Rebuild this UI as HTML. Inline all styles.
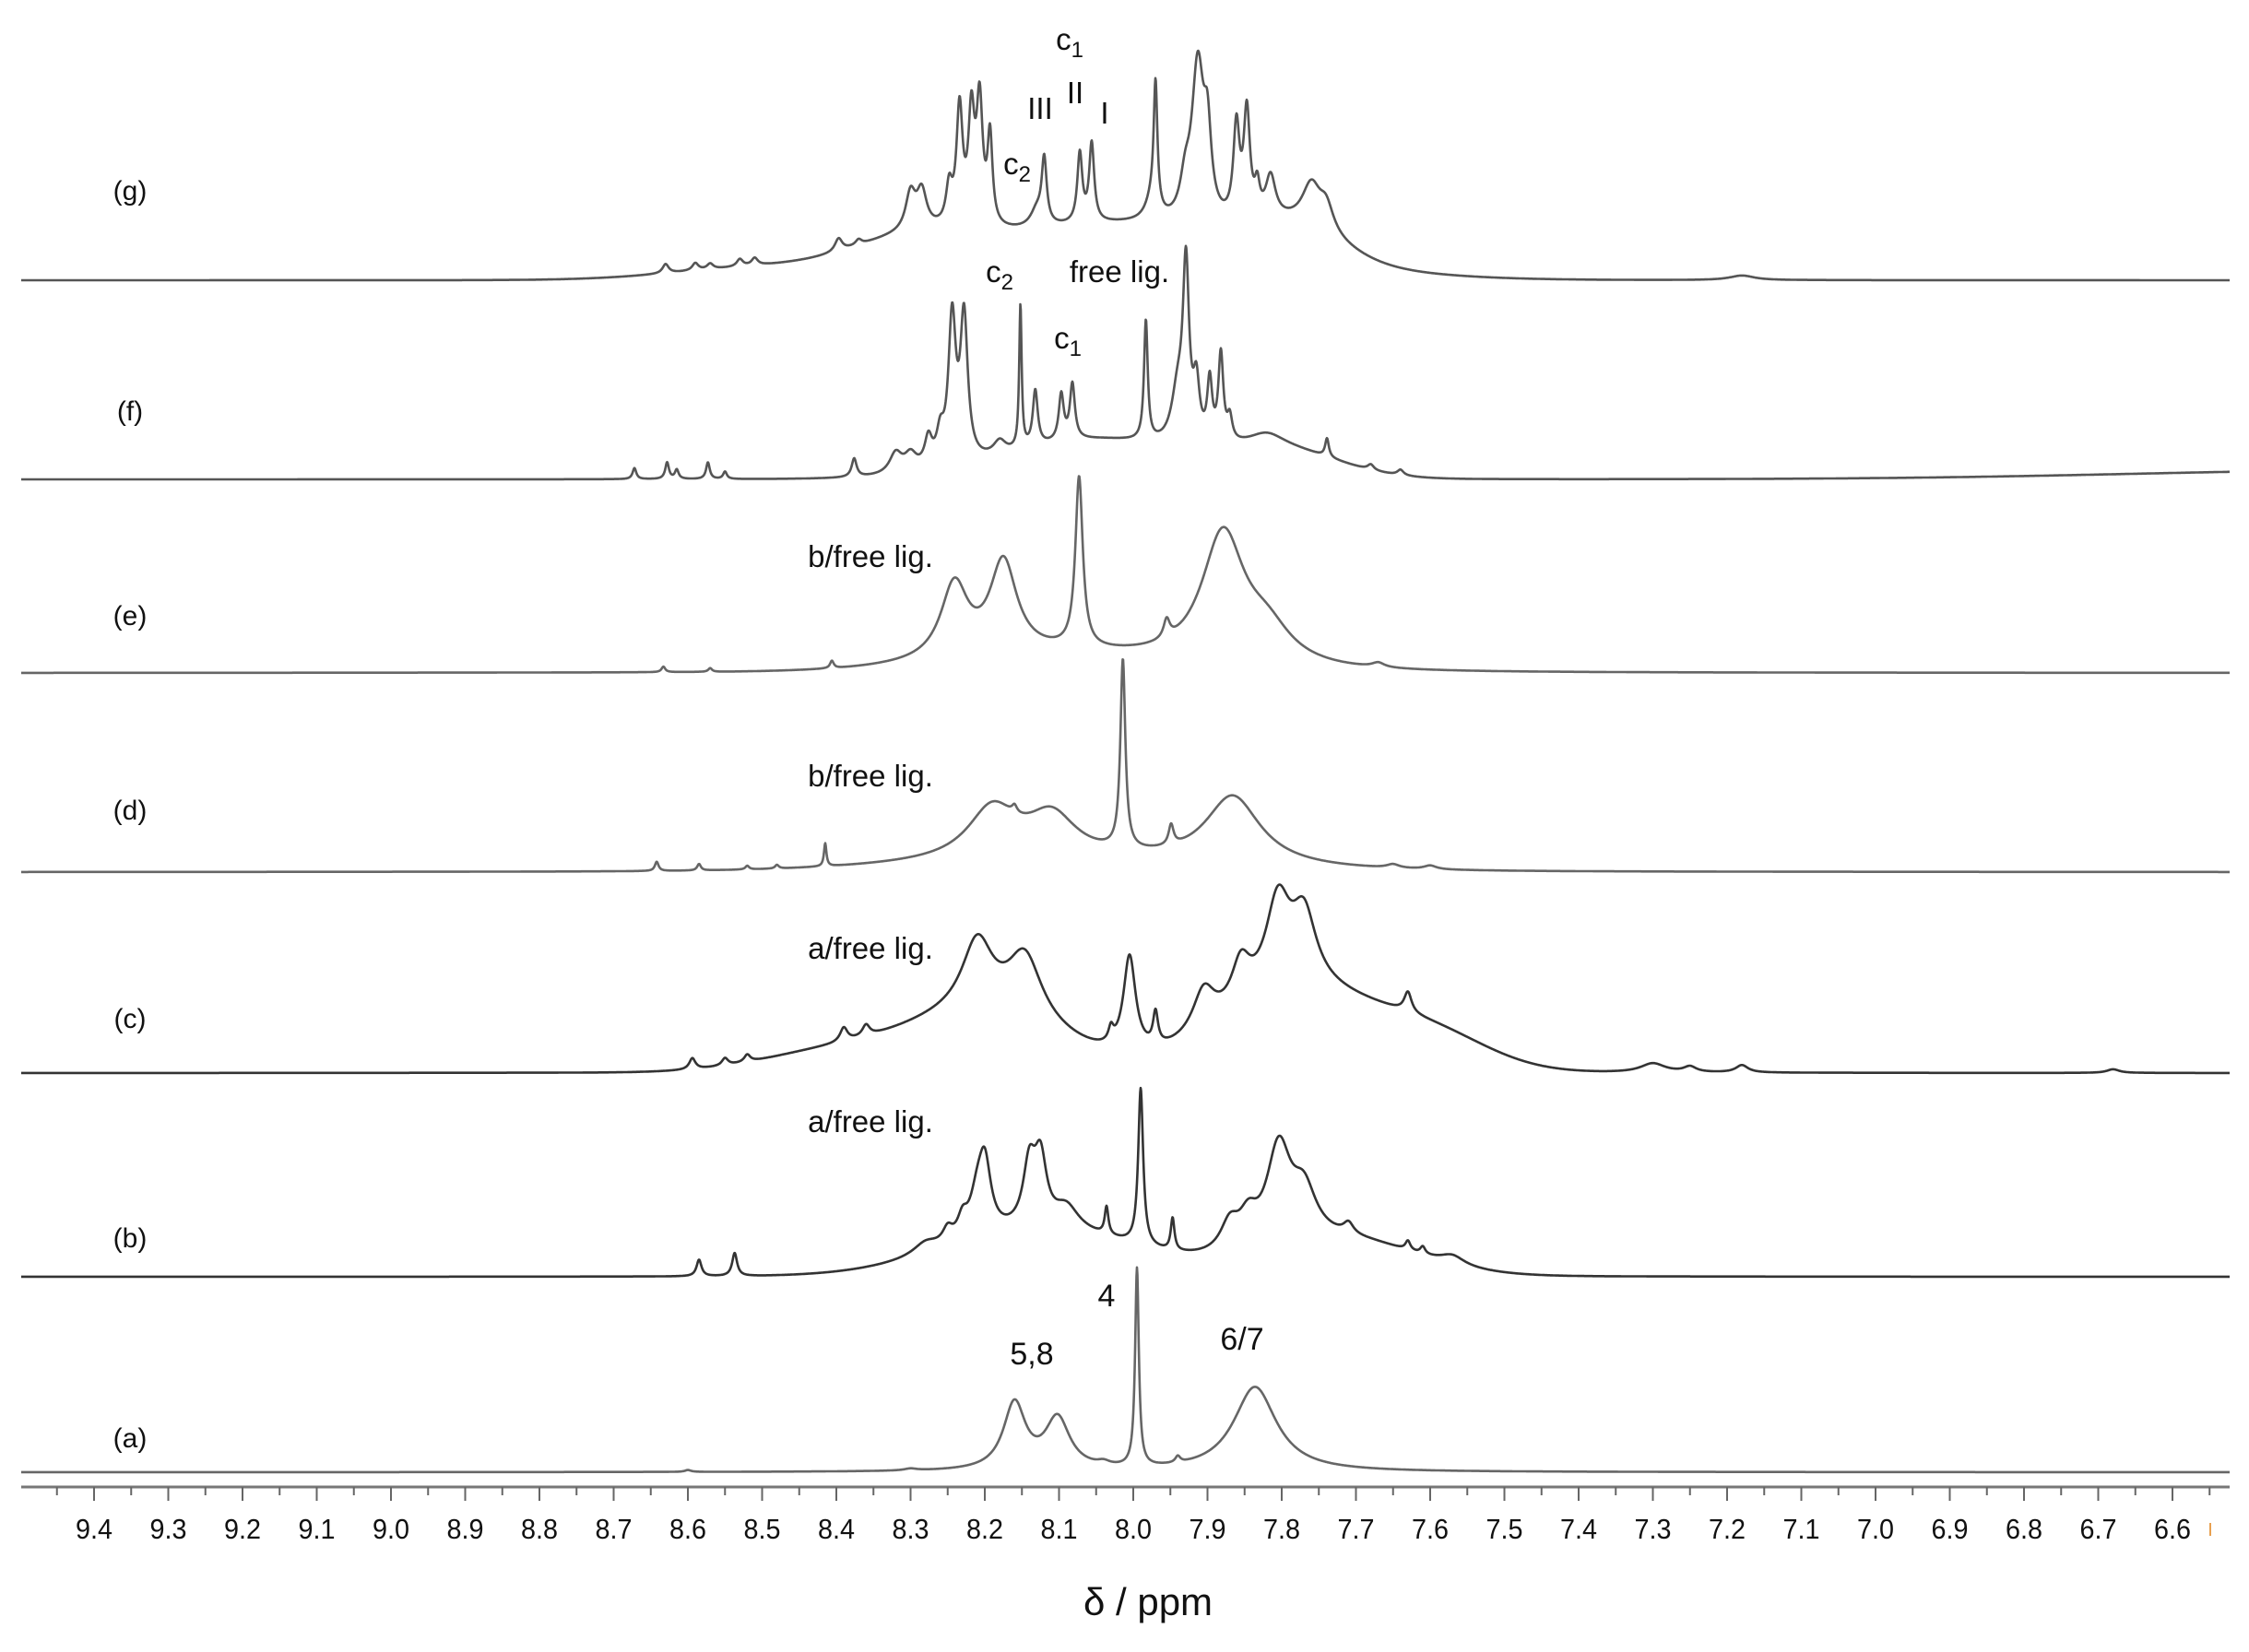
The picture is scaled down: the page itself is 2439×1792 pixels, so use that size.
<!DOCTYPE html>
<html><head><meta charset="utf-8">
<style>
html,body{margin:0;padding:0;background:#fff;}
svg{display:block;}
text{font-family:"Liberation Sans",sans-serif;fill:#111;}
</style></head>
<body>
<svg id="chart" width="2439" height="1792" viewBox="0 0 2439 1792" xmlns="http://www.w3.org/2000/svg">
<g id="traces"></g>
<g id="axis"></g>
<g id="labels">
<text x="141" y="217" font-size="30" text-anchor="middle">(g)</text>
<text x="141" y="456" font-size="30" text-anchor="middle">(f)</text>
<text x="141" y="678" font-size="30" text-anchor="middle">(e)</text>
<text x="141" y="889" font-size="30" text-anchor="middle">(d)</text>
<text x="141" y="1115" font-size="30" text-anchor="middle">(c)</text>
<text x="141" y="1353" font-size="30" text-anchor="middle">(b)</text>
<text x="141" y="1570" font-size="30" text-anchor="middle">(a)</text>

<text x="1119" y="1480" font-size="34" text-anchor="middle">5,8</text>
<text x="1200" y="1417" font-size="34" text-anchor="middle">4</text>
<text x="1347" y="1464" font-size="34" text-anchor="middle">6/7</text>
<text x="944" y="1228" font-size="33" text-anchor="middle">a/free lig.</text>
<text x="944" y="1040" font-size="33" text-anchor="middle">a/free lig.</text>
<text x="944" y="853" font-size="33" text-anchor="middle">b/free lig.</text>
<text x="944" y="615" font-size="33" text-anchor="middle">b/free lig.</text>
<text x="1084" y="306" font-size="33" text-anchor="middle">c<tspan font-size="24" dy="8">2</tspan></text>
<text x="1214" y="306" font-size="33" text-anchor="middle">free lig.</text>
<text x="1158" y="378" font-size="33" text-anchor="middle">c<tspan font-size="24" dy="8">1</tspan></text>
<text x="1160" y="54" font-size="33" text-anchor="middle">c<tspan font-size="24" dy="8">1</tspan></text>
<text x="1128" y="129" font-size="33" text-anchor="middle">III</text>
<text x="1166" y="112" font-size="33" text-anchor="middle">II</text>
<text x="1198" y="134" font-size="33" text-anchor="middle">I</text>
<text x="1103" y="189" font-size="33" text-anchor="middle">c<tspan font-size="24" dy="8">2</tspan></text>
<text x="1245" y="1752" font-size="42" text-anchor="middle">δ / ppm</text>
<rect x="2396" y="1652" width="2" height="14" fill="#e8a050"/>
</g>
</svg>
<script>
// axis data
const tickLabels = ["9.4","9.3","9.2","9.1","9.0","8.9","8.8","8.7","8.6","8.5","8.4","8.3","8.2","8.1","8.0","7.9","7.8","7.7","7.6","7.5","7.4","7.3","7.2","7.1","7.0","6.9","6.8","6.7","6.6"];
const traceNames = ["a","b","c","d","e","f","g"];
// Lorentzian peaks per trace: [ppm, height, hwhm]
const peaksA = [[8.16,72,0.018],[8.102,55,0.02],[8.04,4,0.01],[7.995,215,0.003],[7.94,7,0.004],[7.836,92,0.035],[8.6,2,0.005],[8.3,2,0.01]];
const peaksB = [[8.585,18,0.004],[8.537,25,0.004],[8.28,12,0.02],[8.25,15,0.008],[8.23,20,0.008],[8.21,40,0.012],[8.20,70,0.01],[8.14,65,0.01],[8.125,70,0.01],[8.09,25,0.02],[8.036,30,0.003],[7.99,170,0.004],[7.947,35,0.003],[7.87,30,0.015],[7.845,30,0.015],[7.804,105,0.02],[7.77,50,0.02],[7.71,12,0.008],[7.63,10,0.004],[7.61,8,0.004],[7.57,10,0.02]];
const peaksC = [[8.594,12,0.005],[8.55,8,0.005],[8.52,8,0.005],[8.39,15,0.006],[8.36,12,0.006],[8.21,75,0.025],[8.146,70,0.028],[8.03,15,0.004],[8.005,105,0.01],[7.97,35,0.004],[7.905,45,0.018],[7.855,45,0.015],[7.805,95,0.02],[7.77,75,0.02],[7.63,22,0.006],[7.3,10,0.02],[7.25,6,0.01],[7.18,8,0.01],[6.68,4,0.01]];
const peaksD = [[8.642,10,0.003],[8.585,7,0.003],[8.52,4,0.003],[8.48,4,0.003],[8.415,25,0.002],[8.19,55,0.04],[8.16,8,0.004],[8.11,45,0.04],[8.014,205,0.004],[7.949,22,0.004],[7.866,75,0.045],[7.65,4,0.01],[7.6,4,0.01]];
const peaksE = [[8.633,6,0.003],[8.57,4,0.003],[8.406,8,0.003],[8.241,80,0.022],[8.175,100,0.022],[8.073,185,0.006],[7.955,20,0.005],[7.879,140,0.035],[7.82,35,0.04],[7.67,5,0.01]];
const peaksF = [[8.672,12,0.003],[8.628,18,0.003],[8.615,10,0.003],[8.573,18,0.003],[8.55,8,0.003],[8.376,20,0.004],[8.32,22,0.01],[8.30,18,0.01],[8.276,30,0.006],[8.26,30,0.006],[8.244,155,0.006],[8.228,155,0.006],[8.18,15,0.01],[8.152,155,0.002],[8.132,60,0.004],[8.097,50,0.004],[8.082,60,0.004],[7.983,130,0.003],[7.94,55,0.01],[7.929,185,0.005],[7.915,60,0.005],[7.897,65,0.004],[7.882,95,0.004],[7.87,25,0.004],[7.82,15,0.03],[7.739,20,0.003],[7.68,6,0.005],[7.64,6,0.005]];
const peaksG = [[8.63,10,0.005],[8.59,8,0.005],[8.57,6,0.005],[8.53,8,0.005],[8.51,8,0.005],[8.397,14,0.006],[8.37,6,0.005],[8.30,40,0.008],[8.285,40,0.008],[8.248,40,0.005],[8.234,125,0.005],[8.218,115,0.005],[8.207,130,0.005],[8.193,95,0.004],[8.13,18,0.01],[8.12,70,0.004],[8.072,75,0.004],[8.056,85,0.004],[7.975,22,0.01],[7.97,135,0.003],[7.93,35,0.008],[7.913,170,0.01],[7.9,80,0.006],[7.861,100,0.005],[7.847,115,0.005],[7.833,30,0.004],[7.815,45,0.008],[7.76,45,0.015],[7.74,28,0.012],[7.18,5,0.02]];
// Gaussian humps per trace: [ppm, height, sigma]
const humpsA = [];
const humpsB = [[8.12,48,0.13],[7.72,38,0.1]];
const humpsC = [[8.2,60,0.1],[7.78,85,0.1],[8.4,22,0.1],[7.6,38,0.08]];
const humpsD = [[8.1,12,0.2]];
const humpsE = [[8.1,18,0.15]];
const humpsF = [[8.05,42,0.12],[7.8,28,0.08],[6.3,10,0.35]];
const humpsG = [[8.02,60,0.2],[8.3,25,0.08],[7.78,30,0.06],[8.5,12,0.12]];
const baselines = [1597,1385,1164,946,730,520,304];

const peakSets = [peaksA,peaksB,peaksC,peaksD,peaksE,peaksF,peaksG];
const humpSets = [humpsA,humpsB,humpsC,humpsD,humpsE,humpsF,humpsG];
const colors = ["#666","#333","#333","#666","#666","#555","#555"];

const X0 = 23, X1 = 2418;
function xScale(ppm){ return 102 + (9.4 - ppm) * 805; }
function ppmAt(x){ return 9.4 - (x - 102) / 805; }
function intensity(ppm, peaks, humps){
  let v = 0;
  for (const p of peaks){ const d = (ppm - p[0]) / p[2]; v += p[1] / (1 + d*d); }
  for (const h of humps){ const d = (ppm - h[0]) / h[2]; v += h[1] * Math.exp(-0.5*d*d); }
  return v;
}
const NS = "http://www.w3.org/2000/svg";
const tg = document.getElementById('traces');
for (let i = 0; i < traceNames.length; i++){
  let d = "";
  for (let x = X0; x <= X1; x += 0.5){
    const y = baselines[i] - intensity(ppmAt(x), peakSets[i], humpSets[i]);
    d += (x === X0 ? "M" : "L") + x.toFixed(1) + "," + y.toFixed(1);
  }
  const path = document.createElementNS(NS, 'path');
  path.setAttribute('d', d);
  path.setAttribute('fill', 'none');
  path.setAttribute('stroke', colors[i]);
  path.setAttribute('stroke-width', '2.6');
  path.setAttribute('stroke-linejoin', 'round');
  
  
  tg.appendChild(path);
}
// axis
const ag = document.getElementById('axis');
const axisY = 1613;
const line = document.createElementNS(NS, 'line');
line.setAttribute('x1', X0); line.setAttribute('x2', X1);
line.setAttribute('y1', axisY); line.setAttribute('y2', axisY);
line.setAttribute('stroke', '#777'); line.setAttribute('stroke-width', '3');


ag.appendChild(line);
for (let k = 0; k <= 58; k++){
  const ppm = 9.45 - k * 0.05;
  const x = xScale(ppm);
  if (x < X0 || x > X1) continue;
  const major = (k % 2 === 1);
  const t = document.createElementNS(NS, 'line');
  t.setAttribute('x1', x); t.setAttribute('x2', x);
  t.setAttribute('y1', axisY); t.setAttribute('y2', axisY + (major ? 15 : 9));
  t.setAttribute('stroke', '#666'); t.setAttribute('stroke-width', '2');
  
  
  ag.appendChild(t);
}
for (let j = 0; j < tickLabels.length; j++){
  const x = xScale(parseFloat(tickLabels[j]));
  const tx = document.createElementNS(NS, 'text');
  tx.setAttribute('x', x); tx.setAttribute('y', 1669);
  tx.setAttribute('font-size', '31');
  tx.setAttribute('text-anchor', 'middle');
  tx.setAttribute('textLength', '40');
  tx.setAttribute('lengthAdjust', 'spacingAndGlyphs');
  tx.textContent = tickLabels[j];
  
  
  ag.appendChild(tx);
}
</script>
</body></html>
